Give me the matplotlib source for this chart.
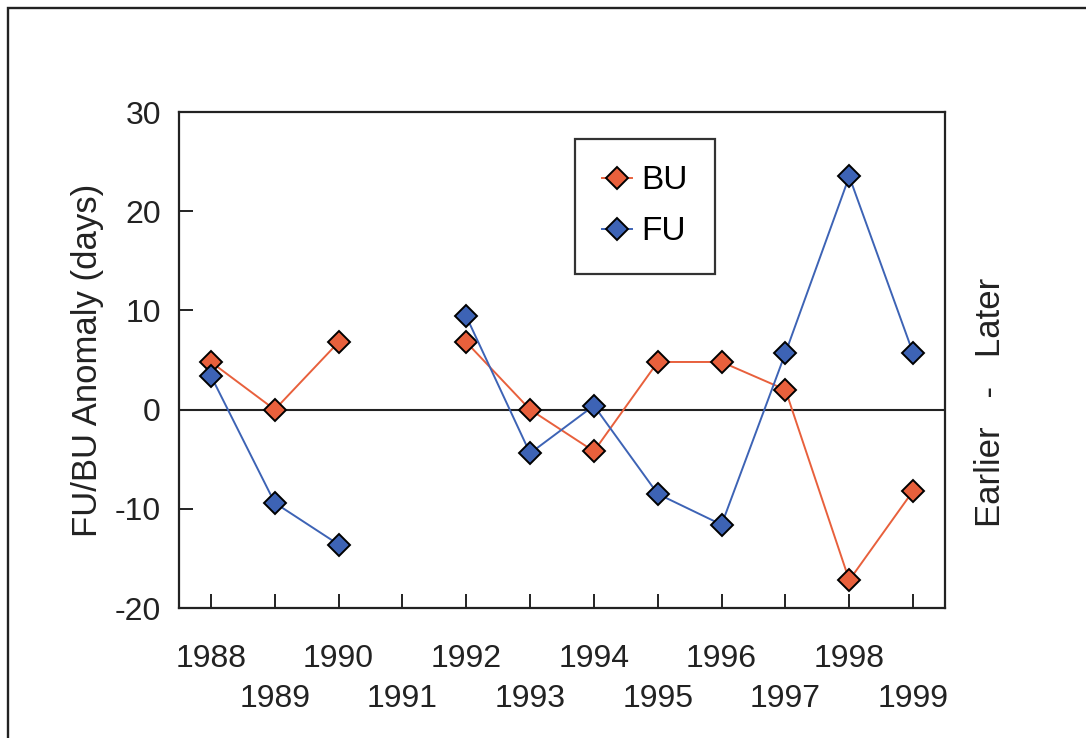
import numpy as np
import matplotlib
matplotlib.use("Agg")
import matplotlib.pyplot as plt
from matplotlib.patches import Rectangle

plt.rcParams['font.family'] = ['Liberation Sans', 'DejaVu Sans']

years = ["1988", "1989", "1990", "1991", "1992", "1993",
         "1994", "1995", "1996", "1997", "1998", "1999"]
bu = [4.8, 0.0, 6.8, np.nan, 6.8, 0.0, -4.2, 4.8, 4.8, 2.0, -17.2, -8.2]
fu = [3.4, -9.4, -13.6, np.nan, 9.4, -4.4, 0.4, -8.5, -11.6, 5.7, 23.5, 5.7]
y_ticks = [-20, -10, 0, 10, 20, 30]

BU_COLOR = "#E8603C"
FU_COLOR = "#3D63B5"
INK = "#222222"
FS = 23
LABEL_FS = 25

W, H = 1086, 738
fig = plt.figure(figsize=(W / 100, H / 100), dpi=100)
fig.patch.set_facecolor("white")

# outer frame running off the right and bottom edges
fig.patches.append(Rectangle((8 / W, -0.2), 1.3, 1.2 - 8 / H,
                             transform=fig.transFigure, fill=False,
                             edgecolor=INK, linewidth=1.7))

ax = fig.add_axes([179 / W, 1 - 608 / H, (945 - 179) / W, (608 - 112) / H])
x = np.arange(len(years))

ax.axhline(0, color=INK, linewidth=1.5, zorder=1)
ax.plot(x, bu, color=BU_COLOR, linewidth=1.4, marker="D", markersize=11,
        markerfacecolor=BU_COLOR, markeredgecolor="black",
        markeredgewidth=1.4, label="BU", zorder=3)
ax.plot(x, fu, color=FU_COLOR, linewidth=1.4, marker="D", markersize=11,
        markerfacecolor=FU_COLOR, markeredgecolor="black",
        markeredgewidth=1.4, label="FU", zorder=3)

ax.set_xlim(-0.5, len(years) - 0.5)
ax.set_ylim(-20, 30)
ax.set_yticks(y_ticks)
ax.set_yticklabels([str(v) for v in y_ticks])
ax.set_xticks(x)
ax.set_xticklabels([])

# staggered year labels: even years on the upper row, odd on the lower
for i, yr in enumerate(years):
    row_y = -0.119 if i % 2 == 0 else -0.200
    ax.text(i, row_y, yr, transform=ax.get_xaxis_transform(),
            ha="center", va="baseline", fontsize=FS, color=INK)

for s in ax.spines.values():
    s.set_linewidth(1.6)
    s.set_color(INK)
ax.tick_params(axis="both", direction="in", length=10, width=1.4,
               color=INK, labelsize=FS, labelcolor=INK)
ax.tick_params(axis="y", pad=13)

ax.set_ylabel("FU/BU Anomaly (days)", fontsize=LABEL_FS, color=INK,
              labelpad=8)

fig.text(990 / W, 1 - 402 / H, "Earlier   -   Later", rotation=90,
         ha="center", va="center", fontsize=LABEL_FS, color=INK)

leg = ax.legend(loc="upper left", bbox_to_anchor=(0.517, 0.946),
                borderaxespad=0, fontsize=24, frameon=True, fancybox=False,
                handlelength=0.9, handletextpad=0.3, borderpad=0.8,
                labelspacing=0.6)
leg.get_frame().set_edgecolor("black")
leg.get_frame().set_linewidth(1.6)

fig.savefig("out.png", dpi=100)
